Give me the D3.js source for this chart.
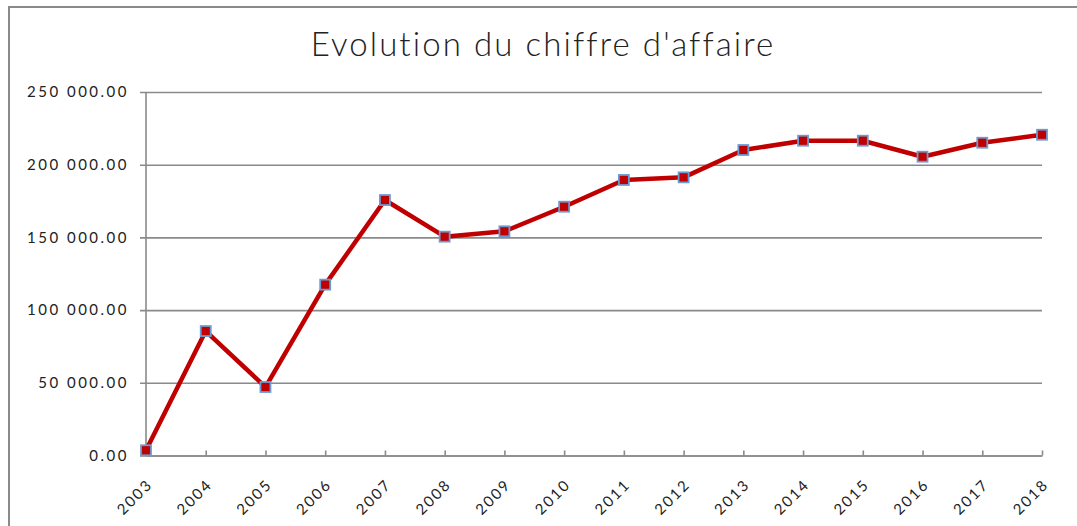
<!DOCTYPE html>
<html>
<head>
<meta charset="utf-8">
<script src="https://cdn.jsdelivr.net/npm/d3@7"></script>
<style>
	body { margin: 0; background: #fff; }
	text { font-family: Lato, "DejaVu Sans", sans-serif; fill: #222; }
</style>
</head>
<body>
<svg id="viz"></svg>
<script>
/* data */
var years = ["2003", "2004", "2005", "2006", "2007", "2008", "2009", "2010",
	"2011", "2012", "2013", "2014", "2015", "2016", "2017", "2018"];
var chiffre = [3600, 85600, 47100, 117500, 175700, 150500, 154200, 171100,
	189500, 191300, 210100, 216500, 216500, 205500, 215100, 220600];
var yTicks = [0, 50000, 100000, 150000, 200000, 250000];
var title = "Evolution du chiffre d'affaire";

/* create svg */
var W = 1077, H = 526;
var margin = { top: 92, right: 35, bottom: 70.5, left: 146 },
	width = W - margin.left - margin.right,
	height = H - margin.top - margin.bottom;

var svg = d3.select('#viz')
		.attr('width', W)
		.attr('height', H);

// outer frame
svg.append('rect')
	.attr('x', 9).attr('y', 7)
	.attr('width', 1200).attr('height', 700)
	.attr('fill', 'none')
	.attr('stroke', '#8a8a8a')
	.attr('stroke-width', 2);

svg.append('text')
	.attr('x', 543).attr('y', 56)
	.attr('text-anchor', 'middle')
	.style('font-size', '33px')
	.style('font-weight', 300)
	.style('letter-spacing', '2.1px')
	.attr('fill', '#000')
	.text(title);

var g = svg.append('g')
	.attr('transform', 'translate(' + margin.left + ',' + margin.top + ')');

var x = d3.scalePoint()
	.domain(years)
	.range([0, width]);

var y = d3.scaleLinear()
	.domain([0, 250000])
	.range([height, 0]);

var fr = d3.formatLocale({ decimal: ".", thousands: " ", grouping: [3], currency: ["", ""] });

// horizontal gridlines + y labels
var yAxis = d3.axisLeft(y)
	.tickValues(yTicks)
	.tickSize(-width)
	.tickPadding(17)
	.tickFormat(fr.format(",.2f"));

var yG = g.append('g').attr('class', 'y_axis').call(yAxis);
yG.select('.domain').remove();
yG.selectAll('.tick line')
	.attr('x1', -6)
	.attr('stroke', '#8a8a8a')
	.attr('stroke-width', 1.6);
yG.selectAll('.tick text')
	.style('font-size', '15px')
	.style('letter-spacing', '2.5px')
	.attr('fill', '#222');

// vertical axis line
g.append('line')
	.attr('x1', 0).attr('x2', 0)
	.attr('y1', 0).attr('y2', height)
	.attr('stroke', '#8a8a8a')
	.attr('stroke-width', 1.6);

// x axis, ticks pointing inward
var xAxis = d3.axisBottom(x)
	.tickSize(-5)
	.tickSizeOuter(0)
	.tickPadding(0);

var xG = g.append('g')
	.attr('class', 'x_axis')
	.attr('transform', 'translate(0,' + height + ')')
	.call(xAxis);
xG.select('.domain')
	.attr('stroke', '#8a8a8a')
	.attr('stroke-width', 1.6);
xG.selectAll('.tick line')
	.attr('stroke', '#8a8a8a')
	.attr('stroke-width', 1.6);
xG.selectAll('.tick text')
	.attr('text-anchor', 'end')
	.attr('dy', 0)
	.attr('y', 0)
	.attr('transform', 'translate(7,30) rotate(-45)')
	.style('font-size', '15px')
	.style('letter-spacing', '2px')
	.attr('fill', '#222');

var points = years.map(function(yr, i){ return [yr, chiffre[i]]; });

var line = d3.line()
	.x(function(d){ return x(d[0]); })
	.y(function(d){ return y(d[1]); });

g.append('path')
	.datum(points)
	.attr('d', line)
	.attr('fill', 'none')
	.attr('stroke', '#c00000')
	.attr('stroke-width', 4.5)
	.attr('stroke-linejoin', 'round');

g.selectAll('.point')
	.data(points)
	.enter().append('rect')
	.attr('class', 'point')
	.attr('x', function(d){ return x(d[0]) - 5; })
	.attr('y', function(d){ return y(d[1]) - 5; })
	.attr('width', 10)
	.attr('height', 10)
	.attr('fill', '#c00000')
	.attr('stroke', '#6b9bd2')
	.attr('stroke-width', 1.8);
</script>
</body>
</html>
